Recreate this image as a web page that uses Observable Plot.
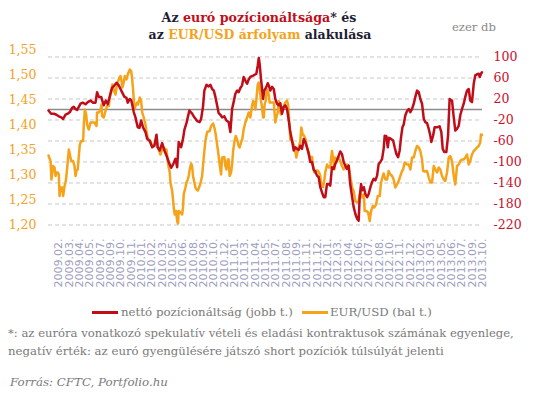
<!DOCTYPE html>
<html><head><meta charset="utf-8">
<script src="https://cdn.jsdelivr.net/npm/d3@7"></script>
<script src="https://cdn.jsdelivr.net/npm/@observablehq/plot@0.6"></script>
<style>
body{margin:0;background:#fff;}
#wrap{position:relative;width:537px;height:399px;overflow:hidden;font-family:"DejaVu Serif",serif;}
.t{position:absolute;white-space:nowrap;}
#title1,#title2{font-weight:bold;color:#1d1d33;line-height:20px;}
.r{color:#c00d1a}.o{color:#f5a31a}
#unit{color:#8a8a8a;line-height:16px;}
#chart{position:absolute;left:0;top:40px;}
.leg{color:#7a7a7a;line-height:16px;}
.sw{position:absolute;height:2.5px;}
.note{color:#7a7a7a;line-height:16px;}
#src{font-style:italic;}
</style></head>
<body>
<div id="wrap">
  <span class="t" id="title1" data-w="195" data-cx="259" data-cy="18">Az <span class="r">euró pozícionáltsága</span>* és</span>
  <span class="t" id="title2" data-w="223" data-cx="260" data-cy="35">az <span class="o">EUR/USD árfolyam</span> alakulása</span>
  <span class="t" id="unit" data-w="44" data-x="452" data-cy="27">ezer db</span>
  <div id="chart"></div>
  <div class="sw" style="left:92px;width:26px;top:311px;background:#c00d1a"></div>
  <span class="t leg" data-w="172" data-x="121" data-cy="312">nettó pozícionáltság (jobb t.)</span>
  <div class="sw" style="left:302px;width:26px;top:311px;background:#f5a31a"></div>
  <span class="t leg" data-w="102" data-x="330" data-cy="312">EUR/USD (bal t.)</span>
  <span class="t note" data-w="506" data-x="8" data-cy="333">*: az euróra vonatkozó spekulatív vételi és eladási kontraktusok számának egyenlege,</span>
  <span class="t note" data-w="436" data-x="8" data-cy="351">negatív érték: az euró gyengülésére játszó short pozíciók túlsúlyát jelenti</span>
  <span class="t note" id="src" data-w="158" data-x="10" data-cy="382">Forrás: CFTC, Portfolio.hu</span>
</div>
<script>
// x-axis category labels (every 6th week)
const xLabels = ["2009.02.","2009.03.","2009.04.","2009.05.","2009.07.","2009.09.","2009.10.","2009.11.","2010.01.","2010.02.","2010.03.","2010.05.","2010.06.","2010.08.","2010.09.","2010.10.","2010.12.","2011.01.","2011.03.","2011.04.","2011.05.","2011.07.","2011.08.","2011.09.","2011.11.","2011.12.","2012.01.","2012.03.","2012.04.","2012.06.","2012.07.","2012.08.","2012.10.","2012.11.","2012.12.","2013.02.","2013.03.","2013.05.","2013.06.","2013.07.","2013.09.","2013.10."];
const labelWeek = xLabels.map((d, i) => 6 + 6 * i);

// left axis (EUR/USD) and right axis (net position, thousand contracts) ticks
const leftTicks = [1.20, 1.25, 1.30, 1.35, 1.40, 1.45, 1.50, 1.55];
const rightTicks = [-220, -180, -140, -100, -60, -20, 20, 60, 100];

// net euro position (thousand contracts), by week index
const netWeek = [0,1.5,3.1,4.6,6,7.4,8.5,9.9,11.2,12.4,13.7,14.7,15.7,16.6,17.6,18.6,19.9,21.5,22.8,24.4,25.9,27.3,28.2,29.2,30.6,31.5,32.1,33.3,34.4,35.2,36,36.9,38.3,39.5,40.8,41.8,42.7,44.1,45.3,46,47.2,48,48.7,49.5,50.5,51.8,52.8,53.8,54.9,56.3,57.3,58.8,60.2,61.5,62.7,63.4,64.6,66,67.3,68.9,69.8,71.2,72.3,73.7,74.7,75.6,77,78.1,78.9,80.1,81.8,83.4,84.7,86.3,87.8,88.6,89.7,90.5,91.7,93,94,95,96,96.9,97.9,98.8,99.8,100.8,102.1,103.3,104.6,105.6,106.6,107.5,108.5,109.5,110.4,111.4,112.4,113.3,114.3,115.3,116.2,117.2,119.1,120.7,121.5,122.1,122.6,123.4,124.6,125.3,126.5,127.3,127.9,128.8,129.8,130.8,131.7,132.7,133.7,134.6,135.6,136.6,137.5,138.5,139.5,140.4,141.4,142.4,143.3,144.3,145.3,146.2,147.2,148.2,149.1,150.1,151.1,152,153,154,154.9,155.9,156.9,157.8,158.8,159.8,160.7,161.7,162.7,163.6,164.6,165.6,166.5,167.5,168.5,169.4,170.4,171.4,172.3,173.3,174.3,175.1,176.3,177.2,178.2,179.2,180.1,180.7,181.5,182.1,183.1,184,185,185.9,186.9,187.9,188.8,189.8,190.8,191.7,192.7,193.7,194.6,195.2,196.2,197,197.7,198.9,200.1,201,202,203,203.9,204.7,205.5,206.2,207.2,208.2,209.2,210.1,211.1,212.1,213,214,215,215.9,216.9,217.9,218.8,219.8,220.8,221.7,222.3,223.3,224.2,225.6,227.1,228.1,228.9,229.8,231,232,232.9,234.3,235.3,236.2,237.2,238.2,239.1,240.1,241.1,242,243,244,244.9,245.9,246.9,247.8,248.8,249.8,250.4,251.1,251.7];
const netValue = [-2,-8,-8,-10,-13,-15,-18,-10,-8,-5,3,5,1,-1,5,11,13,10,14,17,13,13,33,24,24,14,8,17,10,20,31,41,46,51,46,39,33,24,22,13,20,18,8,-5,-15,-34,-35,-21,-34,-43,-56,-60,-72,-69,-48,-72,-78,-64,-78,-91,-100,-111,-105,-94,-110,-62,-72,-56,-39,-26,-2,-8,-15,-22,-24,-18,5,36,47,44,47,39,36,24,8,-7,-10,-15,-13,-21,-24,-43,1,14,30,36,33,41,46,62,55,49,57,62,65,68,84,98,87,58,20,36,43,50,46,36,43,39,20,11,8,12,-8,5,8,1,-21,-43,-59,-78,-72,-75,-77,-69,-75,-56,-62,-72,-85,-100,-100,-115,-118,-126,-129,-148,-158,-167,-167,-142,-142,-145,-110,-113,-104,-97,-88,-80,-85,-100,-107,-113,-107,-140,-167,-186,-199,-208,-212,-167,-142,-154,-148,-161,-167,-161,-148,-138,-132,-135,-126,-104,-100,-94,-75,-50,-51,-72,-54,-56,-59,-72,-85,-91,-78,-53,-34,-29,-11,-3,1,-5,1,11,24,36,33,20,11,-18,-24,-26,-37,-50,-62,-50,-34,-34,-32,-43,-75,-81,-81,-50,20,17,-15,-40,-37,-31,-11,1,11,24,36,39,17,14,49,65,67,68,62,68,71];

// EUR/USD exchange rate, by week index
const usdWeek = [0,1.2,1.7,2.7,3.5,4.1,4.6,5.4,6,6.4,7,7.9,8.5,9.3,9.9,10.4,11.2,11.8,12.4,13.2,14.3,15.1,15.7,16.2,17,17.6,18.2,19,20.1,20.5,21.1,21.9,22.4,23.4,24.4,25.3,26.7,27.9,28.2,29.2,30.2,30.8,31.1,32.1,33.1,34,35,35.6,36.4,37.1,37.9,38.9,39.5,40.2,41.2,41.8,42.4,42.9,43.7,44.3,45.3,46,47.2,48,48.5,49.1,49.9,50.5,51.5,52,53,53.8,54.4,55.3,56.3,56.9,57.6,58.2,59.2,60.2,61.1,62.1,62.7,63.4,64,65,66,66.9,67.7,68.5,69.2,69.8,70.4,70.8,71.8,72.3,72.7,73.3,74.1,74.7,75.2,75.6,76.6,77.6,78.1,78.5,79.5,80.1,80.9,81.4,82,82.8,83.4,83.9,84.7,85.3,85.9,86.7,87.4,88.2,89.2,89.7,90.5,91.1,92.1,93.6,94.4,95.6,96.3,96.9,97.5,98.3,99.4,100.2,100.8,102.1,102.7,103.3,104.1,104.6,105.2,106,106.6,107.2,107.9,108.7,109.5,110.4,111,111.8,112.6,113.3,114.3,115.3,116.2,117.2,118.2,118.8,119.5,120.1,120.7,121.5,122.1,122.6,123.4,124,124.6,125,125.5,126.1,126.9,127.9,128.4,129.8,130.8,131.7,132.3,133.1,133.7,134.2,135,135.6,136.6,137.5,138.5,139.1,139.7,140.4,141.4,142.4,143.3,143.9,144.7,145.3,146.2,146.8,147.6,148.5,149.3,150.1,151.1,151.6,153,153.6,154.4,155.5,156.3,157.1,157.8,158.4,159.4,160.2,160.7,161.7,162.7,163.6,164.6,165.2,166,166.5,167.5,168.5,169.4,170.4,171.4,172.3,173.3,174.3,175.3,176.3,177.2,178.2,179.2,180.1,181.1,182.1,183.1,183.6,184.6,185.6,186.5,187.3,188.3,189.2,190.2,191.2,192.3,193.1,194.1,194.6,195.6,196.6,197.5,198.5,199.5,200.4,201.4,202.4,203.3,204.3,205.3,205.9,206.8,208.2,209.2,210.1,211.1,212.1,213,214,215,215.9,216.9,217.5,218.8,219.8,220.8,221.7,222.7,223.7,224.6,225.6,226.6,227.5,228.5,229.5,230.4,231.4,232.4,233.3,234.3,235.3,236.2,237.2,238.2,239.1,240.1,241.1,242,243,244,244.9,245.9,246.9,247.8,248.8,249.8,250.7,251.1,251.7];
const usdValue = [1.339,1.328,1.291,1.318,1.315,1.298,1.305,1.305,1.301,1.258,1.275,1.275,1.258,1.278,1.285,1.298,1.328,1.351,1.341,1.328,1.328,1.318,1.298,1.308,1.311,1.338,1.361,1.368,1.368,1.401,1.431,1.421,1.401,1.391,1.405,1.405,1.405,1.398,1.425,1.425,1.431,1.441,1.418,1.415,1.428,1.438,1.438,1.455,1.465,1.481,1.471,1.461,1.475,1.485,1.495,1.498,1.488,1.475,1.485,1.498,1.491,1.501,1.511,1.508,1.495,1.471,1.431,1.438,1.445,1.441,1.455,1.448,1.425,1.415,1.401,1.388,1.375,1.371,1.368,1.358,1.358,1.365,1.378,1.355,1.351,1.341,1.351,1.355,1.351,1.351,1.328,1.315,1.305,1.285,1.268,1.251,1.235,1.221,1.228,1.208,1.203,1.228,1.225,1.221,1.235,1.261,1.275,1.285,1.291,1.298,1.311,1.323,1.318,1.298,1.285,1.275,1.271,1.269,1.275,1.283,1.298,1.318,1.348,1.368,1.386,1.388,1.398,1.403,1.395,1.385,1.371,1.351,1.321,1.301,1.335,1.336,1.318,1.311,1.331,1.331,1.298,1.305,1.321,1.348,1.365,1.378,1.371,1.358,1.355,1.365,1.373,1.391,1.405,1.415,1.425,1.415,1.438,1.448,1.445,1.431,1.451,1.481,1.485,1.475,1.448,1.435,1.415,1.415,1.441,1.448,1.471,1.461,1.445,1.445,1.445,1.405,1.415,1.425,1.448,1.435,1.421,1.431,1.438,1.445,1.449,1.441,1.411,1.371,1.368,1.361,1.348,1.335,1.348,1.355,1.368,1.395,1.381,1.378,1.371,1.355,1.345,1.336,1.336,1.318,1.305,1.309,1.309,1.305,1.298,1.278,1.276,1.291,1.305,1.321,1.315,1.315,1.348,1.335,1.311,1.335,1.331,1.335,1.328,1.318,1.311,1.315,1.321,1.318,1.295,1.275,1.268,1.248,1.245,1.248,1.268,1.255,1.261,1.228,1.228,1.225,1.208,1.228,1.238,1.235,1.241,1.258,1.258,1.285,1.298,1.303,1.291,1.291,1.308,1.301,1.298,1.291,1.275,1.281,1.288,1.298,1.308,1.311,1.325,1.321,1.321,1.311,1.335,1.335,1.348,1.358,1.355,1.348,1.331,1.308,1.307,1.308,1.295,1.285,1.285,1.318,1.311,1.305,1.315,1.311,1.298,1.291,1.288,1.305,1.335,1.338,1.328,1.298,1.281,1.318,1.321,1.328,1.331,1.331,1.335,1.341,1.321,1.328,1.341,1.348,1.351,1.355,1.358,1.365,1.381,1.380];

const RED = "#c00d1a", ORANGE = "#f5a31a";
const leftMin = 1.20, leftMax = 1.55, rightMin = -220, rightTop = 113.3;
const toRight = v => rightMin + (v - leftMin) * (rightTop - rightMin) / (leftMax - leftMin);
const toLeft = r => leftMin + (r - rightMin) * (leftMax - leftMin) / (rightTop - rightMin);

const chart = Plot.plot({
  width: 537, height: 260,
  marginLeft: 48, marginRight: 55, marginTop: 9.5, marginBottom: 75.5,
  x: {domain: [0, 252], axis: null},
  y: {domain: [rightMin, rightTop], axis: null},
  style: {fontFamily: "DejaVu Serif", overflow: "visible", background: "transparent"},
  marks: [
    Plot.gridY(rightTicks, {stroke: "#c8c8c8", strokeOpacity: 1, strokeDasharray: "4,3", strokeWidth: 1}),
    Plot.ruleY([0], {stroke: "#8c8c8c", strokeWidth: 1.5}),
    Plot.line(usdValue, {x: (d, i) => usdWeek[i], y: d => toRight(d), stroke: ORANGE, strokeWidth: 2.5}),
    Plot.line(netValue, {x: (d, i) => netWeek[i], y: d => d, stroke: RED, strokeWidth: 2.5}),
    Plot.axisY(leftTicks.map(toRight), {anchor: "left", label: null, tickSize: 0, tickPadding: 12,
      tickFormat: d => toLeft(d).toFixed(2).replace(".", ","), fill: "#f4a11d", fontSize: 12.5, fontFamily: "DejaVu Serif"}),
    Plot.axisY(rightTicks, {anchor: "right", label: null, tickSize: 0, tickPadding: 11,
      tickFormat: d => String(d), fill: "#c8102e", fontSize: 12.5, fontFamily: "DejaVu Serif"}),
    Plot.text(xLabels, {x: (d, i) => labelWeek[i], frameAnchor: "bottom", rotate: -90, textAnchor: "end",
      lineAnchor: "middle", dy: 13.5, fontFamily: "DejaVu Sans", fontSize: 11, fill: "#9d9dbd"})
  ]
});
document.getElementById("chart").appendChild(chart);

// fit HTML texts to the reference widths / positions
document.querySelectorAll("[data-w]").forEach(el => {
  el.style.fontSize = "13px";
  const w = el.getBoundingClientRect().width;
  el.style.fontSize = (13 * (+el.dataset.w) / w).toFixed(2) + "px";
  const r = el.getBoundingClientRect();
  const left = el.dataset.cx ? (+el.dataset.cx - r.width / 2) : +el.dataset.x;
  el.style.left = left + "px";
  el.style.top = (+el.dataset.cy - r.height / 2) + "px";
});
</script>
</body></html>
